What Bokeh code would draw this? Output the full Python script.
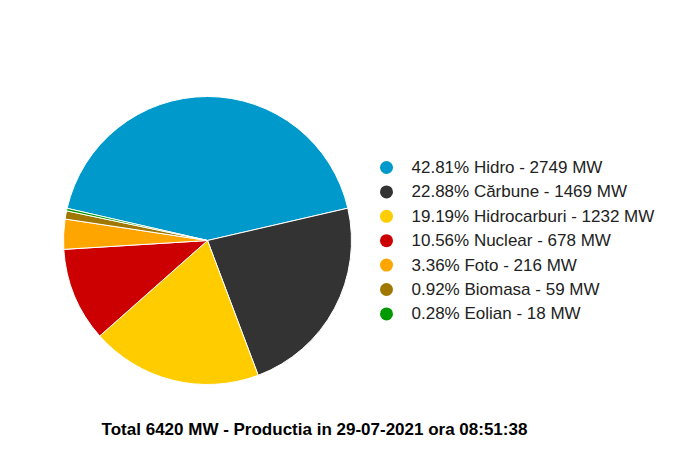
from math import radians, pi
from bokeh.plotting import figure
from bokeh.models import ColumnDataSource, Range1d
from bokeh.core.properties import value
from bokeh.embed import file_html
from bokeh.resources import INLINE

names = ["Hidro", "Cărbune", "Hidrocarburi", "Nuclear", "Foto", "Biomasa", "Eolian"]
mw = [2749, 1469, 1232, 678, 216, 59, 18]
pct = [42.81, 22.88, 19.19, 10.56, 3.36, 0.92, 0.28]
colors = ["#0099CC", "#333333", "#FFCC00", "#CC0000", "#FFA500", "#A07800", "#009900"]
title_text = "Total 6420 MW - Productia in 29-07-2021 ora 08:51:38"

W, H = 684, 443
p = figure(width=W, height=H, output_backend="svg", toolbar_location=None,
           x_range=Range1d(0, W), y_range=Range1d(0, H), min_border=0)
p.axis.visible = False
p.grid.visible = False
p.outline_line_color = None

total = sum(mw)
start0 = radians(167.1)
starts, ends = [], []
cum = 0.0
for v in mw:
    a0 = start0 - 2 * pi * cum / total
    cum += v
    a1 = start0 - 2 * pi * cum / total
    starts.append(a0)
    ends.append(a1)

cx, cy, r = 207, H - 240, 144
src = ColumnDataSource(dict(start=starts, end=ends, color=colors))
p.wedge(x=cx, y=cy, radius=r, start_angle="start", end_angle="end", direction="clock",
        fill_color="color", line_color="white", line_width=1, source=src)

labels = [f"{pc:.2f}% {n} - {m} MW" for pc, n, m in zip(pct, names, mw)]
ys = [H - 167 - i * 24.4 for i in range(len(names))]
lsrc = ColumnDataSource(dict(x=[386] * len(names), tx=[411] * len(names), y=ys, color=colors, label=labels))
p.scatter(x="x", y="y", size=13, fill_color="color", line_color=None, source=lsrc)
p.text(x="tx", y="y", text="label", text_font=value("Liberation Sans"), text_font_size="17px",
       text_baseline="middle", text_color="#222222", source=lsrc)

p.text(x=[314], y=[H - 429], text=[title_text], text_font=value("Liberation Sans"),
       text_font_size="17px", text_font_style="bold", text_align="center", text_baseline="middle",
       text_color="#000000")

open("out.html", "w").write(file_html(p, INLINE))
